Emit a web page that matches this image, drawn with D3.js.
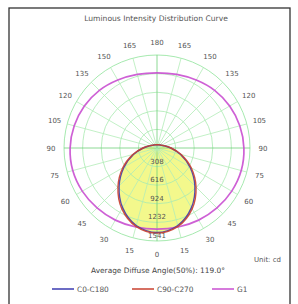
<!DOCTYPE html>
<html>
<head>
<meta charset="utf-8">
<script src="https://cdn.jsdelivr.net/npm/d3@7"></script>
<style>
  body { margin: 0; background: #fff; }
  svg { display: block; font-family: "DejaVu Sans", sans-serif; }
</style>
</head>
<body>
<div id="chart"></div>
<script>
// angles in degrees, measured from straight down (0) to straight up (180)
const angles = [0, 15, 30, 45, 60, 75, 90, 105, 120, 135, 150, 165, 180];
const c0c180 = [1400, 1330, 1141, 888, 630, 400, 228, 133, 89, 70, 60, 55, 52];
const c90c270 = [1410, 1345, 1165, 915, 655, 415, 235, 138, 92, 72, 62, 56, 53];
const g1 = [1345, 1355, 1380, 1405, 1430, 1445, 1440, 1420, 1390, 1350, 1300, 1262, 1245];
const ringValues = [308, 616, 924, 1232, 1541];
const angleTicks = [0, 15, 30, 45, 60, 75, 90, 105, 120, 135, 150, 165, 180];
const seriesNames = ["C0-C180", "C90-C270", "G1"];
const seriesColors = ["#3b3bb0", "#c8402f", "#c94fd0"];

const W = 298, H = 304;
const cx = 157, cy = 148, R = 93;

const svg = d3.select("#chart").append("svg")
    .attr("width", W).attr("height", H);

// frame
svg.append("rect")
    .attr("x", 9).attr("y", 8).attr("width", 281).attr("height", 310)
    .attr("fill", "#fff").attr("stroke", "#333").attr("stroke-width", 1.3);

svg.append("text")
    .attr("x", 156).attr("y", 21)
    .attr("text-anchor", "middle")
    .attr("font-size", 7.6).attr("fill", "#555")
    .text("Luminous Intensity Distribution Curve");

const r = d3.scaleLinear().domain([0, 1541]).range([0, R]);
const g = svg.append("g").attr("transform", `translate(${cx},${cy})`);

// turn one half-plane series into a closed loop (right side then mirrored left side)
function loop(vals) {
    const pts = [];
    angles.forEach((a, i) => pts.push([Math.PI - a * Math.PI / 180, r(vals[i])]));
    for (let i = angles.length - 2; i > 0; i--) {
        pts.push([Math.PI + angles[i] * Math.PI / 180, r(vals[i])]);
    }
    return pts;
}

const radial = d3.lineRadial()
    .angle(d => d[0]).radius(d => d[1])
    .curve(d3.curveCatmullRomClosed.alpha(0.5));

// light yellow fill of the main distribution
g.append("path")
    .attr("d", radial(loop(c0c180)))
    .attr("fill", "#f3f88c").attr("stroke", "none");

// grid rings
g.selectAll(".ring").data(ringValues).join("circle")
    .attr("r", d => r(d))
    .attr("fill", "none")
    .attr("stroke", (d, i) => i === ringValues.length - 1 ? "#8fe39a" : "#a8eab0")
    .attr("stroke-width", 0.8);

// radial spokes, both sides
const spokes = [];
angleTicks.forEach(a => { spokes.push(a); if (a > 0 && a < 180) spokes.push(-a); });
g.selectAll(".spoke").data(spokes).join("line")
    .attr("x1", 0).attr("y1", 0)
    .attr("x2", d => R * Math.sin(d * Math.PI / 180))
    .attr("y2", d => R * Math.cos(d * Math.PI / 180))
    .attr("stroke", d => (d === 0 || d === 180 || Math.abs(d) === 90) ? "#6fcf7a" : "#b3ecb8")
    .attr("stroke-width", 0.8);

// curves
const seriesData = [c0c180, c90c270, g1];
const drawOrder = [2, 0, 1];
drawOrder.forEach(i => {
    g.append("path")
        .attr("d", radial(loop(seriesData[i])))
        .attr("fill", "none")
        .attr("stroke", seriesColors[i])
        .attr("stroke-width", i === 2 ? 1.7 : 1.4)
        .attr("opacity", 0.9);
});

// angle labels
const labelR = 106;
const angleLabels = [];
angleTicks.forEach(a => {
    angleLabels.push({ a: a, s: 1 });
    if (a > 0 && a < 180) angleLabels.push({ a: a, s: -1 });
});
g.selectAll(".alab").data(angleLabels).join("text")
    .attr("x", d => d.s * labelR * Math.sin(d.a * Math.PI / 180))
    .attr("y", d => labelR * Math.cos(d.a * Math.PI / 180) + 2.6)
    .attr("text-anchor", "middle")
    .attr("font-size", 7).attr("fill", "#555")
    .text(d => d.a);

// ring value labels along the downward axis
g.selectAll(".rlab").data(ringValues).join("text")
    .attr("x", 0)
    .attr("y", d => r(d) - 3)
    .attr("text-anchor", "middle")
    .attr("font-size", 7).attr("fill", "#555")
    .text(d => d);

// footer
svg.append("text")
    .attr("x", 281).attr("y", 262)
    .attr("text-anchor", "end")
    .attr("font-size", 7).attr("fill", "#555")
    .text("Unit: cd");

svg.append("text")
    .attr("x", 158).attr("y", 273)
    .attr("text-anchor", "middle")
    .attr("font-size", 7.4).attr("fill", "#444")
    .text("Average Diffuse Angle(50%): 119.0°");

const legendX = [52, 132, 212];
const legend = svg.selectAll(".leg").data(seriesNames).join("g")
    .attr("transform", (d, i) => `translate(${legendX[i]},289)`);
legend.append("line")
    .attr("x1", 0).attr("x2", 22).attr("y1", 0).attr("y2", 0)
    .attr("stroke", (d, i) => seriesColors[i]).attr("stroke-width", 1.5);
legend.append("text")
    .attr("x", 25).attr("y", 2.5)
    .attr("font-size", 7.4).attr("fill", "#555")
    .text(d => d);
</script>
</body>
</html>
